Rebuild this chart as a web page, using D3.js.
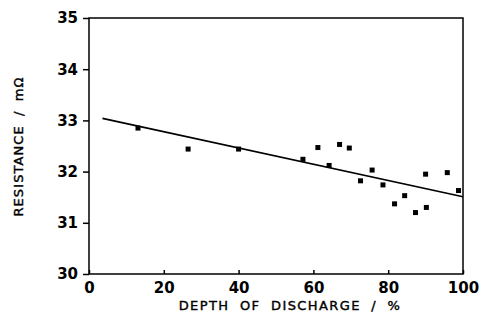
<!DOCTYPE html>
<html>
<head>
<meta charset="utf-8">
<script src="https://cdn.jsdelivr.net/npm/d3@7"></script>
<style>
  body { margin: 0; background: #fff; }
  svg { display: block; }
  text { font-family: "DejaVu Sans", sans-serif; fill: #000; }
</style>
</head>
<body>
<svg id="chart" width="481" height="324"></svg>
<script>
// measured points: depth of discharge (%) vs resistance (mOhm)
const depth = [13.1, 26.5, 40.0, 57.2, 61.2, 64.2, 67.0, 69.6, 72.6, 75.7, 78.6, 81.7, 84.4, 87.3, 90.0, 90.2, 95.8, 98.8]
const resistance = [32.85, 32.44, 32.44, 32.24, 32.47, 32.12, 32.53, 32.46, 31.82, 32.03, 31.74, 31.37, 31.53, 31.20, 31.95, 31.30, 31.98, 31.63]
// fitted line end points
const fitX = [3.6, 100]
const fitY = [33.04, 31.51]
const xTicks = [0, 20, 40, 60, 80, 100]
const yTicks = [30, 31, 32, 33, 34, 35]

const svg = d3.select('#chart')
const mLeft = 89, mRight = 463, mTop = 18, mBottom = 274

const x = d3.scaleLinear().domain([0, 100]).range([mLeft, mRight])
const y = d3.scaleLinear().domain([30, 35]).range([mBottom, mTop])

// frame
svg.append('rect')
  .attr('x', mLeft).attr('y', mTop)
  .attr('width', mRight - mLeft).attr('height', mBottom - mTop)
  .attr('fill', 'none').attr('stroke', '#000').attr('stroke-width', 1.5)

const xAxis = svg.append('g')
  .attr('transform', `translate(0,${mBottom})`)
  .call(d3.axisBottom(x).tickValues(xTicks).tickFormat(d3.format('d')).tickSize(-4).tickPadding(8))
xAxis.select('.domain').remove()
xAxis.selectAll('line').attr('stroke-width', 1.5)
xAxis.selectAll('text')
  .attr('font-size', 15).attr('font-weight', 'bold')

const yAxis = svg.append('g')
  .attr('transform', `translate(${mLeft},0)`)
  .call(d3.axisLeft(y).tickValues(yTicks).tickFormat(d3.format('d')).tickSize(6).tickPadding(5))
yAxis.select('.domain').remove()
yAxis.selectAll('line').attr('stroke-width', 1.5)
yAxis.selectAll('text')
  .attr('font-size', 15).attr('font-weight', 'bold')

// fit line
svg.append('path')
  .datum(fitX.map((d, i) => [d, fitY[i]]))
  .attr('fill', 'none').attr('stroke', '#000').attr('stroke-width', 1.6)
  .attr('d', d3.line().x(d => x(d[0])).y(d => y(d[1])))

// points
const sz = 5
svg.selectAll('rect.pt')
  .data(depth.map((d, i) => [d, resistance[i]]))
  .enter().append('rect')
  .attr('class', 'pt')
  .attr('x', d => x(d[0]) - sz / 2)
  .attr('y', d => y(d[1]) - sz / 2)
  .attr('width', sz).attr('height', sz)
  .attr('fill', '#000')

// axis titles
svg.append('text')
  .attr('x', 290).attr('y', 310)
  .attr('text-anchor', 'middle')
  .attr('font-size', 13).attr('letter-spacing', 1.4).attr('word-spacing', 5)
  .attr('stroke', '#000').attr('stroke-width', 0.4)
  .text('DEPTH OF DISCHARGE / %')

svg.append('text')
  .attr('transform', `translate(23,${(68 + 225) / 2}) rotate(-90)`)
  .attr('text-anchor', 'middle')
  .attr('font-size', 13).attr('letter-spacing', 1.1).attr('word-spacing', 4)
  .attr('stroke', '#000').attr('stroke-width', 0.4)
  .text('RESISTANCE / mΩ')
</script>
</body>
</html>
